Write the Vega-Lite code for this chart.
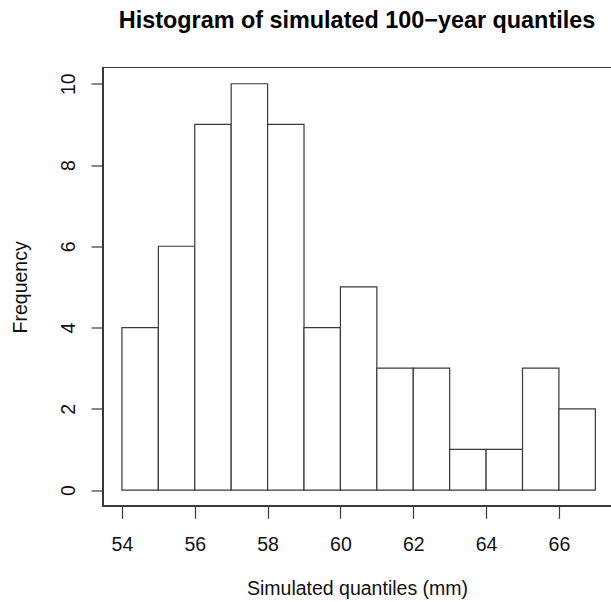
{
  "$schema": "https://vega.github.io/schema/vega-lite/v6.json",
  "autosize": {"type": "none"},
  "padding": {"left": 103, "top": 67.5, "right": 0, "bottom": 95.7},
  "width": 508,
  "height": 438.8,
  "background": "white",
  "config": {"view": {"stroke": null}, "font": "Liberation Sans"},
  "title": {
    "text": "Histogram of simulated 100−year quantiles",
    "fontSize": 23.4,
    "fontWeight": "bold",
    "font": "Liberation Sans",
    "color": "#000",
    "anchor": "middle",
    "frame": "group",
    "baseline": "alphabetic",
    "offset": 15.5
  },
  "data": {
    "values": [
      {"bin_start": 54, "bin_end": 55, "count": 4},
      {"bin_start": 55, "bin_end": 56, "count": 6},
      {"bin_start": 56, "bin_end": 57, "count": 9},
      {"bin_start": 57, "bin_end": 58, "count": 10},
      {"bin_start": 58, "bin_end": 59, "count": 9},
      {"bin_start": 59, "bin_end": 60, "count": 4},
      {"bin_start": 60, "bin_end": 61, "count": 5},
      {"bin_start": 61, "bin_end": 62, "count": 3},
      {"bin_start": 62, "bin_end": 63, "count": 3},
      {"bin_start": 63, "bin_end": 64, "count": 1},
      {"bin_start": 64, "bin_end": 65, "count": 1},
      {"bin_start": 65, "bin_end": 66, "count": 3},
      {"bin_start": 66, "bin_end": 67, "count": 2}
    ]
  },
  "layer": [
    {
      "mark": {"type": "bar", "fill": "white", "stroke": "#3a3a3a", "strokeWidth": 1.2},
      "encoding": {
        "x": {
          "field": "bin_start",
          "type": "quantitative",
          "scale": {"domain": [53.48, 67.43], "nice": false, "zero": false},
          "axis": {
            "title": "Simulated quantiles (mm)",
            "values": [54, 56, 58, 60, 62, 64, 66],
            "domain": false,
            "grid": false,
            "tickSize": 12,
            "tickColor": "#3a3a3a",
            "tickWidth": 1.2,
            "labelFontSize": 19.5,
            "labelColor": "#111",
            "labelFont": "Liberation Sans",
            "labelBaseline": "alphabetic",
            "labelPadding": 31.75,
            "labelFlush": false,
            "labelOverlap": false,
            "titleFont": "Liberation Sans",
            "titleFontSize": 19.5,
            "titleFontWeight": "normal",
            "titleColor": "#111",
            "titleBaseline": "alphabetic",
            "titleY": 87.75
          }
        },
        "x2": {"field": "bin_end"},
        "y": {
          "field": "count",
          "type": "quantitative",
          "scale": {"domain": [-0.4, 10.4], "nice": false, "zero": false},
          "axis": {
            "title": "Frequency",
            "values": [0, 2, 4, 6, 8, 10],
            "domain": false,
            "grid": false,
            "tickSize": 12,
            "tickColor": "#3a3a3a",
            "tickWidth": 1.2,
            "labelFontSize": 19.5,
            "labelColor": "#111",
            "labelFont": "Liberation Sans",
            "labelAngle": -90,
            "labelAlign": "center",
            "labelBaseline": "alphabetic",
            "labelPadding": 17,
            "labelOverlap": false,
            "titleFont": "Liberation Sans",
            "titleFontSize": 19.5,
            "titleFontWeight": "normal",
            "titleColor": "#111",
            "titleAngle": 270,
            "titleBaseline": "alphabetic",
            "titleX": -76.5
          }
        },
        "y2": {"datum": 0}
      }
    },
    {
      "mark": {"type": "rule", "stroke": "#3a3a3a", "strokeWidth": 1.2},
      "encoding": {"x": {"datum": 53.48}, "x2": {"datum": 68}, "y": {"datum": 10.4}}
    },
    {
      "mark": {"type": "rule", "stroke": "#3a3a3a", "strokeWidth": 1.2},
      "encoding": {"x": {"datum": 53.48}, "x2": {"datum": 68}, "y": {"datum": -0.4}}
    },
    {
      "mark": {"type": "rule", "stroke": "#3a3a3a", "strokeWidth": 1.2},
      "encoding": {"x": {"datum": 53.48}, "y": {"datum": -0.4}, "y2": {"datum": 10.4}}
    }
  ]
}
